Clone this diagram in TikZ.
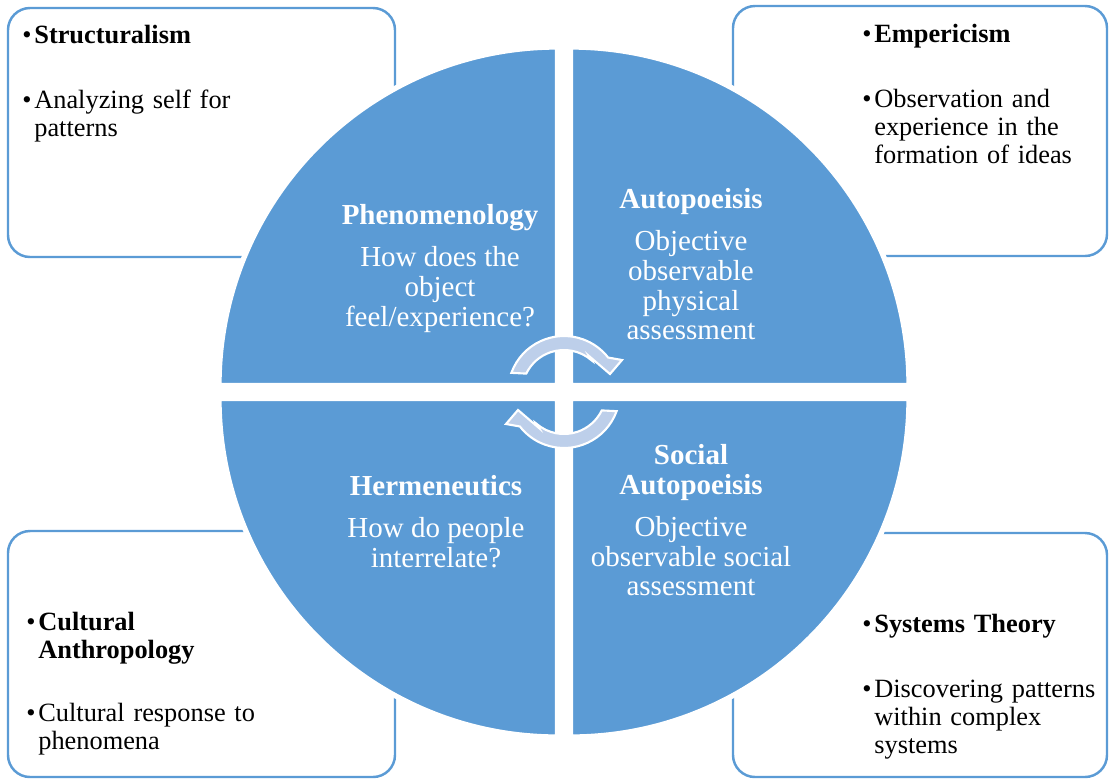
\documentclass[tikz,border=0pt]{standalone}
\usepackage{fontspec}
\setmainfont{Liberation Serif}
\usepackage{xcolor}
\usepackage{tikz}
\definecolor{azulcirculo}{RGB}{91,155,213}
\definecolor{azulflecha}{RGB}{189,207,234}
\tikzset{
	caja/.style={draw=azulcirculo,line width=1.4pt,rounded corners=0.44cm},
	cuarto/.style={fill=azulcirculo,draw=white,line width=3pt},
	flecha/.style={fill=azulflecha,draw=white,line width=1.2pt},
	textocirculo/.style={anchor=north,text=white,align=center,inner sep=0pt,
		font=\fontsize{16.5}{17}\selectfont},
	textocaja/.style={anchor=north west,inner sep=0pt,text width=6.4cm,
		font=\fontsize{15}{16}\selectfont}
}
\newcommand{\vineta}[1]{\noindent\makebox[0.24cm][l]{\textbullet}\parbox[t]{6cm}{\raggedright #1}\par}
\newcommand{\saltoitem}{\vspace{0.736cm}}

\begin{document}
\begin{tikzpicture}[x=0.02cm,y=-0.02cm]
			\useasboundingbox (0,0) rectangle (1109,779);

			% cajas de las esquinas
			\draw[caja] (8,8) rectangle (395,257);
			\draw[caja] (733,6) rectangle (1107,256);
			\draw[caja] (8,531) rectangle (395,777);
			\draw[caja] (733,533) rectangle (1107,777);

			% circulo en cuatro partes
			\draw[cuarto] (557.5,385.5) -- ++(-338.5,0) arc[start angle=180,end angle=270,radius=338.5] -- cycle;
			\draw[cuarto] (570.5,385.5) -- ++(0,-338.5) arc[start angle=270,end angle=360,radius=338.5] -- cycle;
			\draw[cuarto] (570.5,398.5) -- ++(338.5,0) arc[start angle=0,end angle=90,radius=338.5] -- cycle;
			\draw[cuarto] (557.5,398.5) -- ++(0,338.5) arc[start angle=90,end angle=180,radius=338.5] -- cycle;

			% flechas del centro
			\begin{scope}[shift={(564,392)}]
				\draw[flecha] (200:56) arc[start angle=200,end angle=322,radius=56]
					-- (58,-32) -- (46,-18) -- (25,-36) -- (311:42)
					arc[start angle=311,end angle=206,radius=42] -- cycle;
			\end{scope}
			\begin{scope}[shift={(564,392)},rotate=180]
				\draw[flecha] (200:56) arc[start angle=200,end angle=322,radius=56]
					-- (58,-32) -- (46,-18) -- (25,-36) -- (311:42)
					arc[start angle=311,end angle=206,radius=42] -- cycle;
			\end{scope}

			% textos del circulo
			\node[textocirculo] (fenomenologia) at (440,204) {\textbf{Phenomenology}\\[6.8pt]
				How does the\\object\\feel/experience?};
			\node[textocirculo] (autopoiesis) at (691,188) {\textbf{Autopoeisis}\\[6.8pt]
				Objective\\observable\\physical\\assessment};
			\node[textocirculo] (hermeneutica) at (436,475) {\textbf{Hermeneutics}\\[6.8pt]
				How do people\\interrelate?};
			\node[textocirculo] (autopoiesissocial) at (691,444) {\textbf{Social}\\\textbf{Autopoeisis}\\[6.8pt]
				Objective\\observable social\\assessment};

			% textos de las cajas
			\node[textocaja] (estructuralismo) at (22,25) {%
				\vineta{\textbf{Structuralism}}\saltoitem
				\vineta{Analyzing self for\\patterns}};
			\node[textocaja] (empirismo) at (862,24) {%
				\vineta{\textbf{Empericism}}\saltoitem
				\vineta{Observation and\\experience in the\\formation of ideas}};
			\node[textocaja] (antropologia) at (26,612) {%
				\vineta{\textbf{Cultural}\\\textbf{Anthropology}}\saltoitem
				\vineta{Cultural response to\\phenomena}};
			\node[textocaja] (sistemas) at (862,614) {%
				\vineta{\textbf{Systems Theory}}\saltoitem
				\vineta{Discovering patterns\\within complex\\systems}};
		\end{tikzpicture}
\end{document}
